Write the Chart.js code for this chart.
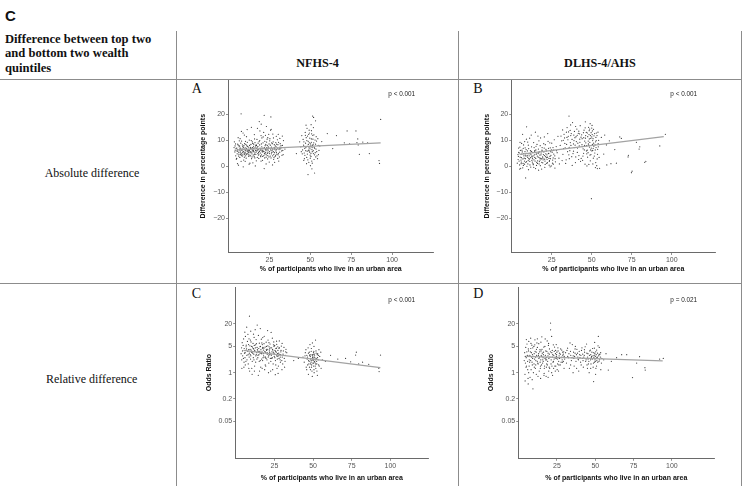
<!DOCTYPE html>
<html><head><meta charset="utf-8">
<script src="https://cdn.jsdelivr.net/npm/chart.js@4.4.1/dist/chart.umd.min.js"></script>
<style>
html,body{margin:0;padding:0;background:#fff;}
#wrap{position:relative;width:742px;height:486px;overflow:hidden;background:#fff;}
.hl{position:absolute;height:1px;background:#8c8c8c;}
.vl{position:absolute;width:1px;background:#8c8c8c;}
.t{position:absolute;white-space:nowrap;line-height:1;}
canvas{position:absolute;}
</style></head><body><div id="wrap"></div>
<script>
// ---------- tick labels ----------
const xTicks = [25, 50, 75, 100];
const absTicks = [-20, -10, 0, 10, 20];
const orTicks = [0.05, 0.2, 1, 5, 20];

// ---------- Panel A: NFHS-4, absolute difference ----------
const pointsA = [
[4.1,6.2],[5.3,4.8],[6.0,8.1],[7.2,5.5],[8.4,3.9],[9.1,7.3],[10.3,6.0],[11.5,9.2],[12.2,4.4],[13.6,6.8],
[14.1,2.9],[15.3,7.7],[16.0,5.1],[17.4,10.3],[18.2,6.4],[19.5,4.0],[20.1,8.6],[21.3,5.8],[22.6,11.9],[23.0,3.5],
[24.4,7.0],[25.2,9.8],[26.5,5.3],[27.1,12.4],[28.3,6.9],[29.6,4.6],[30.2,8.3],[31.4,10.7],[32.5,5.9],[3.6,9.4],
[4.8,2.7],[5.9,11.0],[6.7,6.6],[7.8,4.2],[8.9,12.8],[9.6,5.0],[10.8,3.1],[11.2,7.9],[12.7,10.1],[13.3,5.6],
[14.8,8.8],[15.7,3.7],[16.6,6.1],[17.9,4.9],[18.7,9.5],[19.2,13.6],[20.8,2.3],[21.9,7.2],[22.3,4.7],[23.7,8.0],
[24.9,1.6],[25.8,6.3],[26.1,14.2],[27.8,3.3],[28.9,9.1],[29.1,7.5],[30.7,2.0],[31.9,6.7],[32.9,11.6],[33.4,4.5],
[5.1,7.0],[6.3,5.2],[7.5,8.9],[8.2,6.1],[9.9,4.5],[10.6,8.4],[11.9,5.7],[12.4,3.8],[13.9,9.9],[14.5,6.3],
[15.1,4.3],[16.9,8.2],[17.2,6.9],[18.5,3.0],[19.8,6.6],[20.4,10.9],[21.6,4.1],[22.9,6.0],[23.3,9.3],[24.1,5.4],
[25.5,3.9],[26.8,8.7],[27.4,5.6],[28.6,7.8],[29.9,10.2],[30.5,5.0],[31.1,3.6],[4.4,4.0],[5.6,8.5],[6.9,3.4],
[7.1,10.6],[8.7,7.6],[9.3,2.4],[10.1,5.3],[11.7,6.5],[12.9,8.0],[13.1,1.2],[14.3,4.8],[15.9,10.5],[16.3,7.1],
[17.6,3.4],[18.9,5.7],[19.0,8.2],[20.6,6.2],[21.1,9.0],[22.1,3.2],[23.5,6.5],[24.6,12.3],[25.0,4.9],[26.3,7.4],
[27.6,2.6],[28.1,5.2],[29.4,8.5],[30.9,6.4],[32.1,7.9],[3.9,5.5],[5.0,3.0],[6.5,7.5],[7.7,1.9],[8.0,9.7],
[9.5,6.7],[10.5,4.0],[11.0,11.4],[12.0,6.1],[13.5,4.0],[14.7,7.2],[15.5,5.6],[16.2,9.1],[17.0,2.1],[18.0,7.6],
[19.6,5.1],[20.2,4.4],[21.5,13.0],[22.8,8.4],[23.9,2.8],[24.2,6.2],[25.3,10.6],[26.0,3.2],[27.2,6.6],[28.8,4.2],
[29.2,11.5],[30.1,3.0],[31.6,8.7],[6.1,0.4],[9.0,-0.2],[12.6,0.8],[16.4,0.1],[21.8,-0.9],[26.9,0.5],[7.9,13.4],
[11.4,14.1],[14.0,15.0],[17.7,14.6],[20.0,16.2],[23.2,15.3],[25.7,13.9],[7.7,20.2],[21.8,19.6],[25.9,19.0],[18.8,17.2],
[4.6,6.9],[5.7,5.8],[6.4,4.5],[7.3,7.0],[8.6,5.4],[9.8,8.7],[10.9,6.9],[11.8,4.9],[12.3,7.4],[13.2,5.2],
[14.9,5.9],[15.4,8.5],[16.7,4.6],[17.5,7.4],[18.4,5.3],[19.3,7.0],[20.7,5.5],[21.4,6.8],[22.4,7.9],[23.8,5.0],
[24.8,8.6],[26.6,6.0],[27.9,7.2],[29.0,5.9],[31.0,6.9],[33.0,8.0],[4.0,7.8],[8.1,4.8],[10.0,6.4],[13.8,7.0],
[5.2,5.9],[6.8,7.8],[7.4,4.6],[8.3,6.7],[9.2,5.6],[10.2,7.1],[10.7,4.9],[11.3,5.9],[12.5,6.6],[13.0,4.3],
[13.7,8.4],[14.2,5.4],[15.0,6.7],[15.8,4.5],[16.5,7.8],[17.3,5.9],[18.1,8.9],[18.6,4.7],[19.4,6.2],[20.3,7.5],
[20.9,3.8],[21.7,5.6],[22.2,9.6],[22.7,5.2],[23.4,7.2],[24.0,4.1],[24.5,6.8],[25.1,5.6],[25.6,8.1],[26.2,4.8],
[26.7,6.7],[27.3,9.4],[27.7,4.5],[28.4,6.4],[29.3,5.2],[30.0,7.0],[30.6,9.2],[31.3,5.4],[32.3,7.2],[33.2,6.1],
[4.3,8.6],[5.4,6.4],[6.2,3.9],[6.6,9.8],[7.0,6.2],[7.6,5.1],[8.5,8.2],[8.8,4.4],[9.4,7.9],[9.7,3.5],
[10.4,9.6],[11.1,4.6],[11.6,7.6],[12.1,5.3],[12.8,6.0],[13.4,7.3],[14.4,3.6],[14.6,9.4],[15.2,6.0],[15.6,7.0],
[16.1,3.2],[16.8,5.4],[17.1,8.0],[17.8,6.3],[18.3,4.3],[19.1,9.9],[19.7,3.7],[20.5,5.9],[21.0,7.0],[21.2,11.3],
[22.0,5.0],[22.5,6.5],[23.1,4.4],[23.6,10.4],[24.3,7.5],[24.7,3.6],[25.4,7.0],[26.4,9.0],[27.0,4.0],[28.0,8.3],
[28.5,3.8],[29.5,6.4],[30.3,4.4],[31.5,7.4],[32.7,4.2],[5.5,1.0],[9.7,12.0],[15.8,12.2],[19.9,11.8],[24.0,11.0],
[27.5,10.9],[30.4,12.3],[10.2,1.9],[14.9,1.3],[19.9,2.0],[23.0,0.9],[28.2,1.5],[33.6,9.9],[34.5,6.6],[3.4,7.2],
[44.2,7.5],[45.6,10.3],[46.3,5.1],[47.1,8.9],[47.8,3.4],[48.3,11.6],[48.9,6.2],[49.4,9.0],[49.9,4.3],[50.3,7.8],
[50.8,12.5],[51.2,5.6],[51.7,8.3],[52.3,2.6],[52.9,10.1],[53.5,6.6],[54.1,4.0],[54.8,8.0],[46.9,13.0],[48.0,14.6],
[49.1,1.5],[50.1,0.2],[51.0,-1.0],[52.6,-2.6],[48.6,-3.2],[50.5,16.0],[52.0,18.8],[51.4,19.3],[53.2,17.5],[47.4,15.8],
[45.1,4.8],[45.9,8.1],[46.6,6.9],[47.5,11.0],[48.1,5.8],[48.7,9.6],[49.2,7.1],[49.7,10.8],[50.0,3.1],[50.6,9.2],
[51.0,6.4],[51.5,11.9],[51.9,4.9],[52.4,7.3],[53.0,5.2],[53.8,9.7],[54.4,2.9],[55.3,6.1],[44.8,11.8],[46.0,2.3],
[47.2,6.0],[48.4,7.7],[49.6,5.4],[50.2,8.6],[50.9,2.0],[51.6,10.4],[52.7,6.9],[53.3,3.6],[49.0,12.3],[50.7,13.7],
[43.5,9.4],[55.8,7.8],[47.7,1.0],[49.8,6.7],[51.3,8.0],
[45.3,6.3],[46.1,9.4],[46.7,4.2],[47.3,7.2],[47.9,9.9],[48.2,4.7],[48.8,8.4],[49.3,5.9],[49.5,12.8],[49.9,7.5],
[50.4,5.0],[50.7,10.5],[51.1,7.2],[51.8,6.0],[52.1,9.0],[52.6,4.4],[53.2,8.5],[53.9,5.6],[54.6,10.6],[48.5,2.5],
[50.4,3.8],[51.2,1.2],[52.2,12.1],[49.3,13.9],[47.0,11.9],[46.4,2.9],[53.6,11.4],[55.0,4.5],[44.5,5.6],[51.9,14.9],
[41.5,4.9],[60.4,12.6],[63.7,6.8],[66.0,11.8],[70.8,9.0],[72.5,13.6],[74.0,8.6],[77.9,13.6],[78.5,9.1],[79.3,8.2],
[80.0,4.6],[82.1,9.3],[85.0,9.0],[86.1,4.9],[92.0,2.2],[92.3,1.1],[93.0,18.0],[79.0,10.5],[57.0,9.5]
];
const lineA = [[5, 6.3], [93, 9.0]];

// ---------- Panel B: DLHS-4/AHS, absolute difference ----------
const pointsB = [
[3.5,1.2],[4.2,3.8],[4.9,0.5],[5.4,6.1],[5.8,2.4],[6.3,4.7],[6.9,-0.6],[7.4,8.2],[7.8,3.1],[8.3,5.6],
[8.8,1.5],[9.2,10.4],[9.7,4.2],[10.1,0.9],[10.6,6.8],[11.0,2.7],[11.5,5.0],[11.9,-0.3],[12.4,7.5],[12.8,3.6],
[13.3,1.0],[13.7,9.1],[14.2,4.4],[14.6,2.0],[15.1,6.3],[15.5,0.3],[16.0,3.9],[16.4,11.6],[16.9,5.2],[17.3,1.8],
[17.8,7.9],[18.2,3.0],[18.7,-1.1],[19.1,5.8],[19.6,2.5],[20.0,8.7],[20.5,4.1],[20.9,0.7],[21.4,6.5],[21.8,3.3],
[22.3,1.4],[22.7,9.6],[23.2,4.9],[23.6,2.2],[24.1,7.1],[24.7,0.1],[25.3,5.4],[25.9,3.2],[26.6,10.2],[27.3,1.7],
[3.9,4.5],[4.6,2.0],[5.1,7.4],[5.6,-0.8],[6.1,3.3],[6.6,5.5],[7.1,1.1],[7.6,4.0],[8.1,9.5],[8.6,2.9],
[9.0,6.4],[9.5,0.0],[9.9,3.5],[10.4,8.1],[10.8,4.8],[11.3,1.9],[11.7,6.0],[12.2,12.0],[12.6,2.3],[13.1,5.3],
[13.5,0.6],[14.0,7.2],[14.4,3.4],[14.9,-0.9],[15.3,4.6],[15.8,8.4],[16.2,2.1],[16.7,6.6],[17.1,0.9],[17.6,4.3],
[18.0,10.9],[18.5,2.8],[18.9,6.2],[19.4,1.3],[19.8,4.5],[20.3,7.0],[20.7,-0.4],[21.2,3.7],[21.6,5.9],[22.1,2.6],
[22.5,12.6],[23.0,6.9],[23.4,0.4],[23.9,3.8],[24.4,5.6],[25.0,8.9],[25.6,2.4],[26.2,6.2],[26.9,4.0],[27.8,7.6],
[8.7,-4.5],[9.3,15.2],[6.8,12.3],[14.8,13.1],[5.2,9.2],[11.2,10.8],[17.0,9.8],[20.4,11.3],[4.4,5.3],[6.0,1.6],
[7.2,6.9],[8.0,0.8],[9.4,5.0],[10.7,3.0],[12.0,4.5],[13.0,2.9],[14.3,5.8],[15.6,1.5],[16.5,4.9],[17.5,3.2],
[18.4,5.1],[19.3,3.6],[20.8,2.0],[22.0,4.4],[23.3,3.0],[24.5,4.2],[26.0,0.8],[28.4,5.2],[29.5,3.1],[30.3,8.0],
[28.9,11.5],[29.8,0.9],[27.0,-0.7],
[4.0,2.6],[4.7,5.1],[5.3,3.5],[5.9,1.0],[6.4,6.2],[7.0,2.8],[7.5,4.9],[8.0,2.0],[8.4,7.1],[8.9,3.9],
[9.3,1.8],[9.8,5.9],[10.3,2.2],[10.9,4.0],[11.4,0.5],[11.8,3.3],[12.3,5.7],[12.9,1.6],[13.4,4.0],[13.9,2.5],
[14.5,6.0],[15.0,3.0],[15.4,5.1],[16.1,1.1],[16.6,3.5],[17.2,5.6],[17.7,2.4],[18.3,4.4],[18.8,1.5],[19.5,3.1],
[20.1,5.5],[20.6,2.7],[21.3,4.8],[21.9,1.1],[22.4,3.5],[22.9,5.0],[23.5,1.9],[24.2,2.9],[24.8,6.3],[25.5,1.2],
[26.3,4.7],[27.1,2.9],[28.0,6.0],[4.3,7.0],[6.2,8.8],[8.5,4.3],[10.0,9.3],[12.5,3.9],[15.2,7.7],[19.0,7.2],
[21.0,8.3],[23.8,9.0],[25.8,7.2],[7.3,0.3],[13.8,-0.4],[17.9,0.2],[24.0,-0.2],[5.0,-1.1],[10.5,-1.3],[16.8,-1.5],
[31.2,9.8],[32.0,4.6],[32.7,12.3],[33.4,7.1],[34.0,2.5],[34.6,14.9],[35.1,10.2],[35.8,19.3],[36.3,6.0],[36.9,11.8],
[37.5,3.7],[38.0,16.8],[38.6,8.6],[39.2,13.4],[39.8,1.4],[40.4,9.5],[41.0,5.3],[41.6,12.7],[42.2,7.8],[42.8,15.6],
[43.4,3.0],[44.0,10.6],[44.6,6.7],[45.2,13.9],[45.8,0.8],[46.3,9.0],[46.9,4.8],[47.5,11.4],[48.0,15.0],[48.6,7.4],
[49.1,2.1],[49.6,12.9],[50.1,5.9],[50.6,9.9],[51.1,14.2],[51.6,3.9],[52.1,8.2],[52.6,11.1],[53.1,0.2],[53.7,6.5],
[54.3,10.0],[54.9,-0.8],[31.8,14.0],[33.0,10.9],[34.3,8.4],[35.5,13.2],[36.6,9.1],[37.2,12.6],[38.3,4.9],[39.5,11.0],
[40.7,14.3],[41.3,8.9],[42.5,10.4],[43.7,12.1],[44.3,2.3],[45.5,8.0],[46.6,13.0],[47.2,6.2],[47.8,9.7],[48.3,12.2],
[48.9,4.3],[49.4,10.7],[49.9,8.0],[50.4,13.6],[50.9,6.9],[51.4,11.7],[51.9,5.1],[52.4,9.4],[52.9,12.8],[53.4,2.8],
[54.0,8.7],[50.2,15.7],[49.0,16.4],[46.0,17.1],[43.0,1.9],[40.0,3.6],[37.8,0.3],[36.0,2.9],[34.9,5.6],[33.7,1.1],
[32.4,6.8],[31.5,2.2],[30.8,11.6],[49.8,-12.5],[50.7,0.9],[52.3,-0.5],[47.0,0.1],[44.9,5.0],[42.0,4.1],[39.0,7.2],
[38.9,9.9],[37.0,8.0],[35.3,11.5],[40.9,11.9],[43.9,8.3],[45.0,11.0],[46.8,7.9],[48.5,10.5],[50.0,11.3],[51.3,7.7],
[52.7,7.2],[53.9,13.1],[50.5,8.4],[49.3,6.3],[48.1,8.1],[47.4,3.5],[46.1,10.8],[45.4,6.3],
[33.2,8.8],[34.5,11.1],[35.9,7.3],[36.5,13.8],[37.7,10.3],[38.8,12.0],[39.6,8.1],[40.2,11.4],[41.1,7.0],[41.9,13.5],
[42.6,9.2],[43.3,11.2],[44.1,7.6],[44.8,12.9],[45.6,9.7],[46.2,11.8],[46.7,5.9],[47.3,12.8],[47.9,8.6],[48.4,13.7],
[48.8,9.2],[49.2,11.8],[49.7,7.0],[50.3,12.2],[50.8,10.6],[51.2,8.9],[51.8,12.6],[52.2,6.3],[52.8,9.9],[53.3,11.8],
[53.6,4.6],[54.1,7.5],[50.0,14.7],[48.7,14.3],[45.9,14.8],[42.4,12.5],[39.9,15.3],[36.8,15.9],[34.2,13.1],[32.2,10.0],
[51.0,3.1],[49.5,4.5],[47.7,5.2],[44.5,3.9],[41.8,2.6],[38.6,5.8],[35.7,4.4],[50.6,6.1],[52.5,1.4],[53.5,-0.9],
[48.2,0.7],[54.6,3.4],
[56.0,11.1],[57.5,4.7],[59.2,8.2],[59.4,0.5],[62.0,1.0],[64.4,6.4],[65.4,1.2],[67.5,11.3],[68.5,10.7],[72.7,3.6],
[72.9,4.2],[74.8,-2.5],[75.2,-1.9],[77.9,9.2],[79.6,6.6],[80.0,7.5],[83.1,1.5],[83.8,1.9],[92.5,7.8],[96.0,12.3],
[58.1,12.0],[61.0,9.8]
];
const lineB = [[5, 4.6], [95, 11.4]];

// ---------- Panel C: NFHS-4, odds ratio ----------
const pointsC = [
[3.8,4.6],[4.5,2.8],[5.1,7.9],[5.7,3.3],[6.2,1.6],[6.8,5.4],[7.3,2.2],[7.9,10.5],[8.4,4.1],[8.9,32.0],
[9.4,3.0],[9.9,6.6],[10.4,1.3],[10.9,4.8],[11.4,2.5],[11.9,8.7],[12.4,3.7],[12.9,1.9],[13.4,5.9],[13.9,18.6],
[14.4,2.9],[14.9,4.4],[15.4,1.1],[15.9,15.0],[16.4,3.4],[16.9,6.2],[17.4,2.1],[17.9,4.0],[18.4,9.3],[18.9,2.6],
[19.4,1.5],[19.9,5.0],[20.4,3.1],[20.9,7.4],[21.4,1.8],[21.9,4.3],[22.4,2.4],[22.9,11.8],[23.4,3.6],[23.9,1.2],
[24.4,5.5],[24.9,2.7],[25.4,3.9],[25.9,1.6],[26.4,6.9],[26.9,2.3],[27.4,0.95],[27.9,4.5],[28.4,3.0],[28.9,1.9],
[29.5,5.1],[30.1,2.6],[30.8,3.8],[31.6,1.4],[32.5,4.2],[4.2,6.3],[5.4,1.9],[6.5,3.9],[7.6,6.8],[8.1,1.7],
[8.7,2.6],[9.2,5.2],[9.7,12.7],[10.2,3.5],[10.7,2.0],[11.2,6.0],[11.7,3.1],[12.2,1.5],[12.7,4.6],[13.2,7.6],
[13.7,2.3],[14.2,3.8],[14.7,9.8],[15.2,2.0],[15.7,4.9],[16.2,1.4],[16.7,3.2],[17.2,5.6],[17.7,2.5],[18.2,4.5],
[18.7,1.2],[19.2,3.5],[19.7,6.5],[20.2,2.2],[20.7,4.2],[21.2,1.0],[21.7,3.0],[22.2,5.8],[22.7,2.0],[23.2,4.6],
[23.7,8.3],[24.2,1.7],[24.7,3.3],[25.2,5.3],[25.7,2.1],[26.2,3.5],[26.7,1.3],[27.2,4.9],[27.7,2.8],[28.2,7.0],
[28.7,2.2],[29.2,3.6],[30.4,1.7],[31.2,4.7],[32.0,2.9],[33.0,3.4],[3.5,3.2],[4.8,5.3],[6.0,2.5],[7.0,4.3],
[8.0,3.0],[9.0,1.1],[10.0,4.0],[11.0,3.3],[12.0,5.3],[13.0,2.8],[14.0,4.2],[15.0,3.0],[16.0,5.0],[17.0,3.6],
[18.0,2.8],[19.0,4.8],[20.0,3.9],[21.0,2.6],[22.0,3.4],[23.0,2.9],[24.0,4.0],[25.0,3.1],[26.0,4.4],[27.0,3.2],
[28.0,2.4],[29.0,3.0],[5.9,12.0],[7.1,16.3],[12.6,14.0],[20.6,13.2],[10.6,0.9],[14.6,0.85],[25.6,0.88],[4.0,1.3],
[6.6,2.0],[9.6,2.3],[11.6,4.3],[13.6,3.4],[15.6,3.7],[17.6,4.7],[19.6,2.4],[21.6,4.9],[23.6,2.5],[26.6,2.9],
[30.0,6.0],[31.9,2.0],[8.6,8.0],[16.6,7.8],[24.6,6.6],
[4.4,3.8],[5.0,2.4],[5.5,4.4],[6.1,3.4],[6.7,4.9],[7.2,2.9],[7.8,3.7],[8.3,5.6],[8.8,3.3],[9.3,4.2],
[9.8,2.8],[10.3,5.0],[10.8,3.6],[11.3,4.4],[11.8,2.2],[12.3,3.9],[12.8,5.5],[13.3,3.0],[13.8,4.7],[14.3,2.5],
[14.8,3.6],[15.3,6.1],[15.8,3.3],[16.3,4.1],[16.8,2.3],[17.3,4.5],[17.8,3.2],[18.3,5.9],[18.8,3.7],[19.3,2.6],
[19.8,4.2],[20.3,3.4],[20.8,5.2],[21.3,2.8],[21.8,3.8],[22.3,4.6],[22.8,3.1],[23.3,2.4],[23.8,4.2],[24.3,3.5],
[24.8,5.0],[25.3,2.5],[25.8,3.7],[26.3,4.5],[26.8,2.7],[27.3,3.9],[27.8,3.3],[28.3,4.6],[28.8,2.6],[29.3,3.9],
[29.8,2.1],[30.6,3.1],[31.4,2.4],[32.3,3.6],[6.3,9.2],[9.5,7.4],[11.5,10.6],[17.5,8.6],[21.5,6.3],[26.5,5.7],
[5.3,1.4],[8.5,1.3],[12.1,1.1],[17.1,1.3],[22.6,1.1],[27.6,1.5],[3.9,2.2],[15.9,2.1],[19.1,1.6],[29.9,1.2],
[43.5,2.6],[44.3,1.9],[45.0,3.4],[45.6,1.4],[46.2,2.3],[46.8,4.6],[47.3,1.7],[47.8,2.9],[48.3,1.2],[48.8,3.7],
[49.2,2.1],[49.6,6.2],[50.0,2.6],[50.4,1.5],[50.8,3.1],[51.2,1.9],[51.6,7.4],[52.0,2.4],[52.5,1.1],[53.0,3.2],
[53.6,1.6],[54.3,2.7],[55.2,1.3],[56.0,2.2],[47.0,0.9],[49.5,0.79],[52.8,0.85],[50.6,5.0],[48.0,5.6],[45.4,4.1],
[44.8,2.8],[46.5,1.6],[47.6,3.5],[48.5,2.2],[49.0,1.4],[49.4,3.0],[49.9,1.8],[50.2,2.3],[50.6,1.2],[51.0,2.8],
[51.4,1.5],[51.9,3.8],[52.3,2.0],[53.3,2.2],[54.0,1.5],[55.0,3.5],[46.0,2.9],[48.7,1.9],[50.3,3.4],[51.7,1.7],
[49.7,2.5],[50.9,2.0],[48.2,2.7],[47.1,2.1],[53.8,4.1],[45.9,1.2],[52.7,3.0],
[46.4,2.6],[47.0,3.3],[47.5,2.0],[48.1,3.0],[48.6,2.4],[49.1,1.6],[49.6,2.8],[50.1,2.1],[50.5,3.7],[51.1,2.5],
[51.5,2.2],[52.0,3.3],[52.4,1.7],[52.9,2.5],[53.5,2.9],[48.9,4.4],[50.7,1.0],[49.3,1.1],[51.8,1.3],[47.7,1.4],
[50.0,3.0],[49.8,2.3],[50.4,1.8],[48.4,1.7],
[61.3,2.9],[66.0,2.3],[71.0,2.4],[74.3,1.95],[77.5,2.95],[78.0,3.5],[79.5,1.7],[82.0,1.9],[86.0,1.67],[92.5,1.3],
[92.7,1.07],[93.6,2.95],[58.0,2.0],[40.5,2.4],[37.5,2.1]
];
const lineC = [[5, 3.9], [93.5, 1.36]];

// ---------- Panel D: DLHS-4/AHS, odds ratio ----------
const pointsD = [
[3.6,2.1],[4.1,0.9],[4.6,4.7],[5.1,1.5],[5.6,2.9],[6.1,0.7],[6.6,6.8],[7.1,1.9],[7.6,3.6],[8.1,1.2],
[8.6,5.4],[9.1,2.4],[9.3,0.37],[9.6,1.0],[10.1,3.2],[10.6,7.5],[11.1,1.6],[11.6,4.2],[12.1,2.0],[12.6,0.8],
[13.1,5.9],[13.6,2.6],[14.1,1.3],[14.6,3.8],[15.1,9.0],[15.6,1.8],[16.1,3.0],[16.6,0.95],[17.1,5.0],[17.6,2.2],
[18.1,1.4],[18.6,7.0],[19.1,2.8],[19.6,1.1],[20.1,4.3],[20.8,21.0],[20.8,13.9],[21.5,9.2],[21.1,1.7],[21.6,3.4],
[22.1,0.85],[22.6,5.5],[23.1,2.3],[23.6,1.5],[24.1,3.9],[24.6,2.7],[25.1,1.2],[25.6,4.6],[26.1,2.0],[26.6,3.3],
[27.1,1.6],[27.6,2.5],[28.1,4.0],[28.6,1.9],[29.1,3.1],[29.6,1.3],[3.9,3.4],[4.4,1.8],[4.9,2.5],[5.4,5.8],
[5.9,1.2],[6.4,3.8],[6.9,2.2],[7.4,0.75],[7.9,4.4],[8.4,2.6],[8.9,1.6],[9.9,5.0],[10.4,2.3],[10.9,1.3],
[11.4,3.5],[11.9,6.2],[12.4,1.8],[12.9,2.9],[13.4,1.1],[13.9,4.1],[14.4,2.2],[14.9,1.6],[15.4,3.3],[15.9,2.5],
[16.4,4.8],[16.9,1.5],[17.4,2.9],[17.9,0.8],[18.4,3.7],[18.9,2.0],[19.4,5.3],[19.9,1.4],[20.4,2.6],[21.9,3.9],
[22.4,1.9],[22.9,2.9],[23.4,4.8],[23.9,1.1],[24.4,2.4],[24.9,3.5],[25.4,1.7],[26.4,2.8],[27.4,4.3],[28.4,2.2],
[29.4,3.6],[5.0,7.6],[7.8,8.3],[12.2,8.0],[17.3,7.9],[4.2,0.6],[6.2,0.5],[8.8,0.65],[14.3,0.7],[19.2,0.75],
[6.0,2.8],[9.0,3.0],[11.0,2.6],[13.0,3.2],[15.0,2.7],[16.0,2.0],[18.0,2.5],[20.0,3.1],[22.0,2.6],[24.0,3.2],
[26.5,2.4],[28.8,2.9],[30.0,2.3],[10.0,1.7],[14.0,1.9],[18.3,1.7],[22.8,1.3],
[4.3,2.7],[4.8,1.4],[5.3,3.6],[5.8,2.0],[6.3,4.3],[6.8,1.5],[7.3,2.9],[7.8,2.1],[8.3,3.4],[8.7,1.9],
[9.2,4.6],[9.7,2.7],[10.2,1.4],[10.7,3.7],[11.2,2.1],[11.7,2.9],[12.2,4.7],[12.7,1.7],[13.2,2.4],[13.7,3.6],
[14.2,1.5],[14.7,2.9],[15.2,4.2],[15.7,2.2],[16.2,3.5],[16.7,1.3],[17.2,2.4],[17.7,3.8],[18.2,2.2],[18.7,1.6],
[19.2,3.3],[19.7,2.4],[20.2,1.3],[20.7,3.6],[21.2,2.2],[21.7,1.5],[22.2,3.0],[22.7,2.0],[23.2,3.7],[23.7,2.5],
[24.2,1.5],[24.7,3.0],[25.2,2.3],[25.7,3.8],[26.2,1.6],[26.7,2.5],[27.2,3.1],[27.7,1.9],[28.2,2.6],[28.7,3.5],
[29.2,2.0],[29.7,2.7],[8.0,6.0],[10.5,5.5],[14.5,6.5],[19.5,6.0],[24.5,5.6],[6.5,1.0],[11.5,0.9],[16.5,0.85],
[21.5,1.0],[26.0,1.1],
[30.6,3.4],[31.2,1.8],[31.9,4.5],[32.5,2.5],[33.1,1.3],[33.8,3.7],[34.4,2.1],[35.0,5.6],[35.6,2.8],[36.2,1.5],
[36.8,3.3],[37.4,2.0],[38.0,4.2],[38.6,2.6],[39.2,1.1],[39.8,3.0],[40.4,1.9],[41.0,3.9],[41.6,2.4],[42.2,1.4],
[42.8,2.9],[43.4,4.9],[44.0,2.2],[44.6,1.6],[45.2,3.2],[45.8,2.0],[46.4,3.8],[47.0,1.3],[47.6,2.7],[48.2,4.4],
[48.8,1.8],[49.3,2.9],[49.8,2.2],[50.3,3.6],[50.8,1.5],[51.3,2.6],[51.8,5.2],[52.0,9.2],[52.4,2.0],[53.0,3.1],
[53.6,1.2],[54.3,2.4],[48.9,0.58],[50.2,0.9],[46.0,1.0],[35.5,1.0],[33.5,6.2],[37.0,5.0],[44.3,5.8],[49.6,6.4],
[34.0,2.9],[36.0,2.4],[38.4,3.3],[40.0,2.5],[42.0,2.1],[43.0,3.5],[45.0,2.6],[47.0,3.0],[48.0,2.3],[49.0,3.4],
[50.0,2.7],[51.0,2.1],[52.5,3.0],[50.5,2.4],[49.5,1.9],[47.4,2.5],[45.5,1.7],[39.0,2.2],[32.0,2.7],[41.3,4.6],
[46.8,4.0],[51.5,3.3],[53.3,2.6],[40.8,1.6],[37.8,1.3],
[32.8,3.2],[34.8,2.5],[35.8,3.5],[36.5,2.7],[37.7,3.0],[38.8,2.3],[39.5,3.7],[40.6,2.9],[41.8,3.1],[42.5,2.6],
[43.7,2.0],[44.5,3.3],[45.3,2.3],[46.2,2.9],[46.9,2.2],[47.8,3.5],[48.5,2.8],[49.1,2.5],[49.7,3.2],[50.1,2.0],
[50.6,3.0],[51.1,2.5],[51.6,1.9],[52.2,2.8],[52.8,2.2],[53.5,3.4],[49.4,4.5],[50.9,4.0],[48.6,1.4],[50.4,1.3],
[47.2,1.7],[44.9,1.3],[42.9,4.1],[36.8,4.3],[33.9,1.6],[52.6,4.7],[54.0,1.8],[31.5,3.9],
[55.5,2.2],[58.5,1.17],[63.9,2.5],[67.2,3.0],[70.5,3.0],[74.3,0.74],[77.0,1.8],[78.9,2.67],[82.4,1.36],[82.6,1.17],
[92.0,2.3],[94.4,2.4],[57.0,3.2],[60.5,2.0]
];
const lineD = [[5, 2.7], [94, 2.05]];

const wrap = document.getElementById('wrap');
function box(cls, l, t, w, h) {
  const d = document.createElement('div'); d.className = cls;
  d.style.left = l + 'px'; d.style.top = t + 'px';
  if (w != null) d.style.width = w + 'px';
  if (h != null) d.style.height = h + 'px';
  wrap.appendChild(d);
}
function txt(s, x, base, size, fam, weight, color, align) {
  const d = document.createElement('div'); d.className = 't'; d.textContent = s;
  const k = fam.indexOf('Serif') >= 0 ? 0.8375 : 0.8465;
  d.style.fontFamily = "'" + fam + "'"; d.style.fontSize = size + 'px';
  d.style.fontWeight = weight; d.style.color = color;
  d.style.top = (base - k * size) + 'px';
  if (align === 'center') { d.style.left = (x - 200) + 'px'; d.style.width = '400px'; d.style.textAlign = 'center'; }
  else d.style.left = x + 'px';
  wrap.appendChild(d);
}

// table rules
box('hl', 0, 79, 742, null);
box('hl', 0, 283, 742, null);
box('vl', 176, 31, null, 455);
box('vl', 458, 31, null, 455);
box('vl', 741, 31, null, 455);

// table text
txt('C', 5, 20.7, 15, 'Liberation Sans', 'bold', '#111', 'left');
txt('Difference between top two', 5, 43.3, 12.6, 'Liberation Serif', 'bold', '#111', 'left');
txt('and bottom two wealth', 5, 58.0, 12.6, 'Liberation Serif', 'bold', '#111', 'left');
txt('quintiles', 5, 72.7, 12.6, 'Liberation Serif', 'bold', '#111', 'left');
txt('NFHS-4', 317.5, 66.8, 12.2, 'Liberation Serif', 'bold', '#111', 'center');
txt('DLHS-4/AHS', 600, 66.8, 12.2, 'Liberation Serif', 'bold', '#111', 'center');
txt('Absolute difference', 92, 177.3, 12, 'Liberation Serif', 'normal', '#111', 'center');
txt('Relative difference', 91.7, 383.3, 12, 'Liberation Serif', 'normal', '#111', 'center');
txt('A', 191.7, 93.3, 14, 'Liberation Serif', 'normal', '#111', 'left');
txt('B', 473.3, 93.3, 14, 'Liberation Serif', 'normal', '#111', 'left');
txt('C', 191.7, 299, 14, 'Liberation Serif', 'normal', '#111', 'left');
txt('D', 473.3, 299, 14, 'Liberation Serif', 'normal', '#111', 'left');

function fmt(v) { return v < 0 ? '\u2212' + Math.abs(v) : String(v); }

function panel(p) {
  const r = p.rect, a = p.area;
  const c = document.createElement('canvas');
  c.width = r.w; c.height = r.h;
  c.style.left = r.l + 'px'; c.style.top = r.t + 'px';
  c.style.width = r.w + 'px'; c.style.height = r.h + 'px';
  wrap.appendChild(c);
  const yW = a.l - r.l, xH = (r.t + r.h) - a.b;
  const tickFont = { family: 'Liberation Sans', size: 7 };
  const titleFont = { family: 'Liberation Sans', size: 7, weight: 'bold' };
  const pPlugin = { id: 'pval', afterDraw(chart) {
    const ctx = chart.ctx; ctx.save();
    ctx.font = '6.4px "Liberation Sans"'; ctx.fillStyle = '#222'; ctx.textBaseline = 'alphabetic'; ctx.textAlign = 'left';
    ctx.fillText(p.pText, p.pX - r.l, p.pBase - r.t); ctx.restore(); } };
  new Chart(c, {
    type: 'scatter',
    data: { datasets: [
      { type: 'line', data: p.line.map(q => ({ x: q[0], y: q[1] })), borderColor: '#a3a3a3',
        borderWidth: 1.2, pointRadius: 0, fill: false, tension: 0 },
      { data: p.points.map(q => ({ x: q[0], y: q[1] })), pointRadius: 0.62,
        backgroundColor: 'rgba(30,30,30,0.85)', borderWidth: 0 }
    ] },
    plugins: [pPlugin],
    options: {
      responsive: false, animation: false, events: [], devicePixelRatio: 1,
      layout: { padding: { left: 0, top: a.t - r.t, right: (r.l + r.w) - a.r, bottom: 0 } },
      plugins: { legend: { display: false }, tooltip: { enabled: false } },
      scales: {
        x: {
          type: 'linear', position: 'bottom', min: p.xmin, max: p.xmax,
          afterBuildTicks: s => { s.ticks = xTicks.map(v => ({ value: v })); },
          afterFit: s => { s.height = xH; },
          grid: { display: true, drawOnChartArea: false, drawTicks: true, tickLength: 2.5, color: '#777', lineWidth: 0.8 },
          border: { display: true, color: '#6a6a6a', width: 1 },
          ticks: { color: '#555', font: tickFont, padding: 1, autoSkip: false, maxRotation: 0, minRotation: 0, callback: v => fmt(v) },
          title: { display: true, text: '% of participants who live in an urban area', color: '#111', font: titleFont,
                   padding: { top: 0, bottom: (r.t + r.h) - p.xTitleY - 4.2 } }
        },
        y: {
          type: p.log ? 'logarithmic' : 'linear', position: 'left', min: p.ymin, max: p.ymax,
          afterBuildTicks: s => { s.ticks = p.yTicks.map(v => ({ value: v })); },
          afterFit: s => { s.width = yW; },
          grid: { display: true, drawOnChartArea: false, drawTicks: true, tickLength: 2.5, color: '#777', lineWidth: 0.8 },
          border: { display: true, color: '#6a6a6a', width: 1 },
          ticks: { color: '#555', font: tickFont, padding: 1, autoSkip: false, callback: v => fmt(v) },
          title: { display: true, text: p.yTitle, color: '#111', font: titleFont,
                   padding: { top: p.yTitleX - r.l - 4.2, bottom: 0 } }
        }
      }
    }
  });
}

panel({ rect: { l: 177, t: 66, w: 280, h: 216 }, area: { l: 228.5, t: 80, r: 433, b: 252.5 },
  xmin: 0, xmax: 125, ymin: -33.2, ymax: 33.2, yTicks: absTicks, log: false,
  yTitle: 'Difference in percentage points', yTitleX: 203.3, xTitleY: 269.3, points: pointsA, line: lineA,
  pText: 'p < 0.001', pX: 388.3, pBase: 95.5 });
panel({ rect: { l: 459, t: 66, w: 281, h: 216 }, area: { l: 511.7, t: 80, r: 715, b: 252.5 },
  xmin: 0, xmax: 127, ymin: -33.2, ymax: 33.2, yTicks: absTicks, log: false,
  yTitle: 'Difference in percentage points', yTitleX: 486.7, xTitleY: 269.3, points: pointsB, line: lineB,
  pText: 'p < 0.001', pX: 670.3, pBase: 95.5 });
panel({ rect: { l: 177, t: 272, w: 280, h: 213 }, area: { l: 235.7, t: 287, r: 428, b: 458.3 },
  xmin: 0, xmax: 124.3, ymin: 0.0052, ymax: 192, yTicks: orTicks, log: true,
  yTitle: 'Odds Ratio', yTitleX: 209, xTitleY: 477.7, points: pointsC, line: lineC,
  pText: 'p < 0.001', pX: 388.3, pBase: 302.2 });
panel({ rect: { l: 459, t: 272, w: 281, h: 213 }, area: { l: 518.7, t: 287, r: 714, b: 458.3 },
  xmin: 0, xmax: 127.5, ymin: 0.0052, ymax: 192, yTicks: orTicks, log: true,
  yTitle: 'Odds Ratio', yTitleX: 491, xTitleY: 477.7, points: pointsD, line: lineD,
  pText: 'p = 0.021', pX: 670.3, pBase: 302.2 });
</script>
</body></html>
